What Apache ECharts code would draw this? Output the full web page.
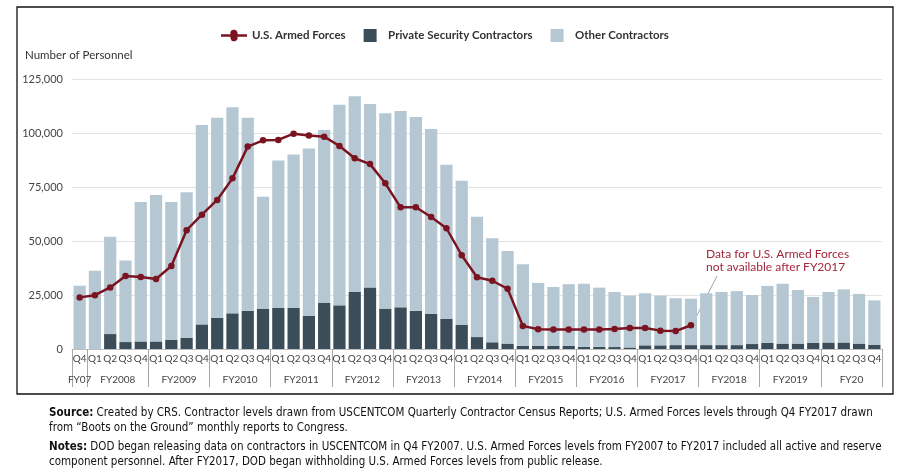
<!DOCTYPE html>
<html><head><meta charset="utf-8">
<script src="https://cdn.jsdelivr.net/npm/echarts@6/dist/echarts.min.js"></script>
<style>
html,body{margin:0;padding:0;background:#fff;}
#c{width:906px;height:475px;}
</style></head>
<body><div id="c"></div>
<script>
const quarters = ['Q4',
 'Q1','Q2','Q3','Q4','Q1','Q2','Q3','Q4','Q1','Q2','Q3','Q4','Q1','Q2','Q3','Q4',
 'Q1','Q2','Q3','Q4','Q1','Q2','Q3','Q4','Q1','Q2','Q3','Q4','Q1','Q2','Q3','Q4',
 'Q1','Q2','Q3','Q4','Q1','Q2','Q3','Q4','Q1','Q2','Q3','Q4','Q1','Q2','Q3','Q4',
 'Q1','Q2','Q3','Q4'];
const years = ['FY07','FY2008','FY2009','FY2010','FY2011','FY2012','FY2013','FY2014','FY2015','FY2016','FY2017','FY2018','FY2019','FY20'];
const yearCenters = [0,2.5,6.5,10.5,14.5,18.5,22.5,26.5,30.5,34.5,38.5,42.5,46.5,50.5];
const yearBounds = [-0.5,0.5,4.5,8.5,12.5,16.5,20.5,24.5,28.5,32.5,36.5,40.5,44.5,48.5,52.5];
const totalContractors = [29300,36200,52000,41000,68000,71300,68000,72600,103700,107100,111900,107100,70500,
 87300,90000,92800,101400,113100,117000,113400,109100,110200,107400,101900,85300,
 77900,61200,51300,45400,39200,30600,28700,30000,30200,28400,26400,24700,
 25800,24700,23500,23300,25800,26400,26800,25000,29200,30200,27300,24100,26400,27600,25500,22500];
const securityContractors = [0,0,6900,3200,3500,3500,4200,5100,11400,14500,16500,17700,18700,
 19000,19000,15400,21300,20200,26400,28500,18700,19300,17700,16200,13900,
 11100,5500,3100,2500,1500,1500,1500,1500,1000,1000,900,700,
 1700,1700,1800,1800,1800,1800,1800,2300,2800,2500,2500,2800,3000,3000,2500,2000];
const armedForces = [23900,24900,28500,33800,33300,32400,38400,55000,62200,69000,79000,93700,96600,
 96800,99700,98800,98300,94000,88300,85600,76700,65600,65600,61100,55900,
 43400,33200,31600,27900,10700,9100,9000,9000,9000,9000,9300,9700,
 9700,8500,8300,11000,null,null,null,null,null,null,null,null,null,null,null,null];
const otherContractors = totalContractors.map((t,i)=>t-securityContractors[i]);

const FONT = 'Lato, "Open Sans", sans-serif';
const NOTEFONT = '"Liberation Sans Narrow","DejaVu Sans Condensed",sans-serif';
const chart = echarts.init(document.getElementById('c'), null, {renderer:'canvas'});
chart.setOption({
  animation:false,
  backgroundColor:'#fff',
  textStyle:{fontFamily:FONT},
  legend:{
    top:24, left:216, itemGap:18, itemWidth:26, itemHeight:13, symbolKeepAspect:true,
    textStyle:{fontFamily:FONT, fontWeight:'bold', fontSize:11.5, color:'#333'},
    data:[
      {name:'U.S. Armed Forces', icon:'path://M0,5.2 L9.5,5.2 A3.6,3.6 0 1 1 16.5,5.2 L26,5.2 L26,7.8 L16.5,7.8 A3.6,3.6 0 1 1 9.5,7.8 L0,7.8 Z', itemStyle:{color:'#7b1421'}},
      {name:'Private Security Contractors', icon:'path://M0,0 L13,0 L13,13 L0,13 Z'},
      {name:'Other Contractors', icon:'path://M0,0 L13,0 L13,13 L0,13 Z'}
    ]
  },
  grid:{left:72, right:24, top:79, bottom:126},
  xAxis:[
    {type:'category', data:quarters, boundaryGap:true,
     axisLine:{lineStyle:{color:'#bfbfbf', width:1}},
     axisTick:{show:false},
     axisLabel:{interval:0, margin:5, fontSize:10, color:'#444', fontFamily:FONT}},
    {type:'value', min:-0.5, max:52.5, position:'bottom',
     axisLine:{show:false}, splitLine:{show:false},
     axisTick:{show:true, customValues:yearBounds, length:38, inside:false, lineStyle:{color:'#a6a6a6', width:1}},
     axisLabel:{customValues:yearCenters, margin:26, fontSize:10, color:'#444', fontFamily:FONT,
       formatter:(v)=>{const i=yearCenters.indexOf(v); return i>=0?years[i]:'';}}}
  ],
  yAxis:{type:'value', min:0, max:125000, interval:25000,
    axisLine:{show:false}, axisTick:{show:false},
    splitLine:{lineStyle:{color:'#e3e3e3', width:1}},
    axisLabel:{fontSize:11, color:'#444', margin:9, fontFamily:FONT,
      formatter:(v)=>v.toLocaleString('en-US')}},
  series:[
    {name:'Private Security Contractors', type:'bar', stack:'c', data:securityContractors, barCategoryGap:'20%',
     itemStyle:{color:'#3b4d58'}},
    {name:'Other Contractors', type:'bar', stack:'c', data:otherContractors, barCategoryGap:'20%',
     itemStyle:{color:'#b4c7d2'}},
    {name:'U.S. Armed Forces', type:'line', data:armedForces, symbol:'circle', symbolSize:6.5,
     lineStyle:{color:'#7b1421', width:2.5}, itemStyle:{color:'#7b1421'}, z:5}
  ],
  graphic:[
    {type:'rect', shape:{x:17, y:7, width:876, height:387}, style:{fill:'none', stroke:'#111', lineWidth:1.3}, z:-1},
    {type:'text', left:25, top:49, style:{text:'Number of Personnel', font:'11.5px '+FONT, fill:'#333'}},
    {type:'line', shape:{x1:717, y1:276, x2:692, y2:325}, style:{stroke:'#8c8c8c', lineWidth:0.8}},
    {type:'text', left:706, top:247, style:{text:'Data for U.S. Armed Forces\nnot available after FY2017', font:'12px '+FONT, fill:'#a3283c', lineHeight:13.5}},
    {type:'text', left:49, top:406, style:{rich:{b:{fontWeight:'bold', fontFamily:NOTEFONT, fontSize:11.5, fill:'#111'}, n:{fontFamily:NOTEFONT, fontSize:11.5, fill:'#111'}},
      text:'{b|Source:}{n| Created by CRS. Contractor levels drawn from USCENTCOM Quarterly Contractor Census Reports; U.S. Armed Forces levels through Q4 FY2017 drawn}\n{n|from \u201cBoots on the Ground\u201d monthly reports to Congress.}', lineHeight:15}},
    {type:'text', left:49, top:440, style:{rich:{b:{fontWeight:'bold', fontFamily:NOTEFONT, fontSize:11.5, fill:'#111'}, n:{fontFamily:NOTEFONT, fontSize:11.5, fill:'#111'}},
      text:'{b|Notes:}{n| DOD began releasing data on contractors in USCENTCOM in Q4 FY2007. U.S. Armed Forces levels from FY2007 to FY2017 included all active and reserve}\n{n|component personnel. After FY2017, DOD began withholding U.S. Armed Forces levels from public release.}', lineHeight:15}}
  ]
});
</script>
</body></html>
